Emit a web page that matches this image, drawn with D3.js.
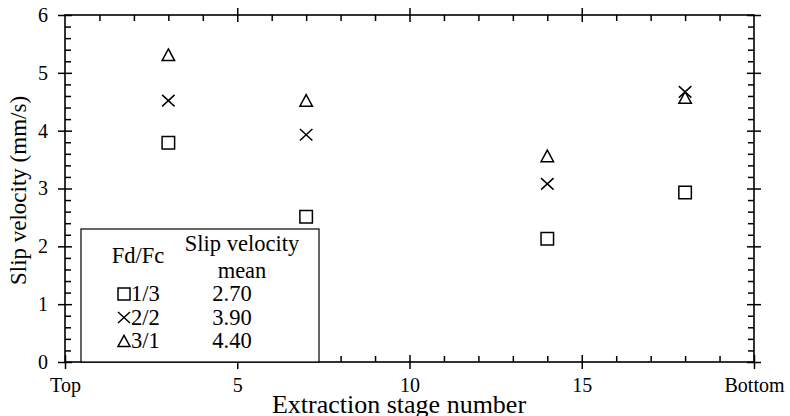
<!DOCTYPE html>
<html>
<head>
<meta charset="utf-8">
<script src="https://cdn.jsdelivr.net/npm/d3@7"></script>
<style>
  body { margin: 0; background: #fff; }
  svg text { font-family: "Liberation Serif", "Times New Roman", serif; fill: #000; }
</style>
</head>
<body>
<svg id="chart" width="790" height="416"></svg>
<script>
// stage positions of the measurements
const stages = [3, 7, 14, 18];
// slip velocity (mm/s) per Fd/Fc ratio
const ratio13 = [3.79, 2.51, 2.13, 2.93];
const ratio22 = [4.52, 3.93, 3.08, 4.67];
const ratio31 = [5.31, 4.52, 3.56, 4.57];
// legend table
const ratioNames = ['1/3', '2/2', '3/1'];
const ratioMeans = ['2.70', '3.90', '4.40'];
// tick labels on x
const xTickValues = [0, 5, 10, 15, 20];
const xTickLabels = ['Top', '5', '10', '15', 'Bottom'];
const yTickValues = [0, 1, 2, 3, 4, 5, 6];

const svg = d3.select('#chart');
const margin = {left: 65, right: 36, top: 15, bottom: 54};
const W = 790, H = 416;
const innerW = W - margin.left - margin.right;
const innerH = H - margin.top - margin.bottom;

const x = d3.scaleLinear().domain([0, 20]).range([margin.left, margin.left + innerW]);
const y = d3.scaleLinear().domain([0, 6]).range([margin.top + innerH, margin.top]);

const xMinor = d3.range(1, 20).filter(d => d % 5 !== 0);
const yMinor = d3.range(0, 30).map(d => d / 5).filter(d => Math.abs(d - Math.round(d)) > 1e-6);

const MAJOR = 7, MINOR = 6;

// frame
svg.append('rect')
  .attr('x', x(0)).attr('y', y(6))
  .attr('width', x(20) - x(0)).attr('height', y(0) - y(6))
  .attr('fill', 'none').attr('stroke', '#000').attr('stroke-width', 1.6);

function cleanAxis(g) {
  g.select('.domain').remove();
  g.selectAll('.tick line').attr('stroke', '#000').attr('stroke-width', 1.5);
}

// bottom axis: labels + crossing major ticks
const xAxis = d3.axisBottom(x).tickValues(xTickValues)
  .tickFormat((d, i) => xTickLabels[i]).tickSize(MAJOR).tickPadding(9);
svg.append('g').attr('class', 'x axis')
  .attr('transform', `translate(0,${y(0)})`)
  .call(xAxis).call(cleanAxis)
  .call(g => g.selectAll('.tick line').attr('y1', -MAJOR))
  .call(g => g.selectAll('.tick text').attr('font-size', 20));

// bottom minor ticks, inward
svg.append('g')
  .attr('transform', `translate(0,${y(0)})`)
  .call(d3.axisTop(x).tickValues(xMinor).tickSize(MINOR).tickFormat(''))
  .call(cleanAxis);

// top axis ticks, inward
svg.append('g')
  .attr('transform', `translate(0,${y(6)})`)
  .call(d3.axisBottom(x).tickValues(xMinor).tickSize(MINOR).tickFormat(''))
  .call(cleanAxis);
svg.append('g')
  .attr('transform', `translate(0,${y(6)})`)
  .call(d3.axisBottom(x).tickValues([5, 10, 15]).tickSize(MAJOR).tickFormat(''))
  .call(cleanAxis)
  .call(g => g.selectAll('.tick line').attr('y1', -MAJOR));

// left axis: labels + crossing major ticks
svg.append('g').attr('class', 'y axis')
  .attr('transform', `translate(${x(0)},0)`)
  .call(d3.axisLeft(y).tickValues(yTickValues).tickFormat(d3.format('d'))
    .tickSize(MAJOR).tickPadding(10))
  .call(cleanAxis)
  .call(g => g.selectAll('.tick line').attr('x1', MAJOR))
  .call(g => g.selectAll('.tick text').attr('font-size', 20));
svg.append('g')
  .attr('transform', `translate(${x(0)},0)`)
  .call(d3.axisRight(y).tickValues(yMinor).tickSize(MINOR).tickFormat(''))
  .call(cleanAxis);

// right axis ticks
svg.append('g')
  .attr('transform', `translate(${x(20)},0)`)
  .call(d3.axisLeft(y).tickValues(yMinor).tickSize(MINOR).tickFormat(''))
  .call(cleanAxis);
svg.append('g')
  .attr('transform', `translate(${x(20)},0)`)
  .call(d3.axisLeft(y).tickValues(yTickValues).tickSize(MAJOR).tickFormat(''))
  .call(cleanAxis)
  .call(g => g.selectAll('.tick line').attr('x1', MAJOR));

// axis titles
svg.append('text')
  .attr('x', 399).attr('y', 413)
  .attr('text-anchor', 'middle').attr('font-size', 26)
  .text('Extraction stage number');
svg.append('text')
  .attr('transform', `translate(26,${(y(0) + y(6)) / 2 + 2}) rotate(-90)`)
  .attr('text-anchor', 'middle').attr('font-size', 23)
  .text('Slip velocity (mm/s)');

// marker shapes
function markerPath(kind, s) {
  const h = s / 2;
  if (kind === 'square') return `M${-h},${-h}H${h}V${h}H${-h}Z`;
  if (kind === 'cross') return `M${-h},${-h * 0.92}L${h},${h * 0.92}M${h},${-h * 0.92}L${-h},${h * 0.92}`;
  return `M0,${-h * 0.95}L${h},${h * 0.9}H${-h}Z`;
}

const seriesList = [
  {kind: 'square', values: ratio13},
  {kind: 'cross', values: ratio22},
  {kind: 'triangle', values: ratio31}
];

seriesList.forEach(s => {
  svg.append('g').selectAll('path')
    .data(stages.map((st, i) => ({st, v: s.values[i]})))
    .join('path')
    .attr('transform', d => `translate(${x(d.st)},${y(d.v)})`)
    .attr('d', markerPath(s.kind, 12.5))
    .attr('fill', 'none').attr('stroke', '#000').attr('stroke-width', 1.5);
});

// legend table
const lg = svg.append('g');
lg.append('rect')
  .attr('x', 81).attr('y', 229).attr('width', 238).attr('height', y(0) - 229)
  .attr('fill', '#fff').attr('stroke', '#000').attr('stroke-width', 1.2);
lg.append('text').attr('x', 138).attr('y', 263).attr('text-anchor', 'middle')
  .attr('font-size', 22.5).text('Fd/Fc');
lg.append('text').attr('x', 242).attr('y', 251).attr('text-anchor', 'middle')
  .attr('font-size', 22.5).text('Slip velocity');
lg.append('text').attr('x', 242).attr('y', 278).attr('text-anchor', 'middle')
  .attr('font-size', 22.5).text('mean');

seriesList.forEach((s, i) => {
  const by = 301 + i * 23.5;
  lg.append('path')
    .attr('transform', `translate(124,${by - 7})`)
    .attr('d', markerPath(s.kind, 12))
    .attr('fill', 'none').attr('stroke', '#000').attr('stroke-width', 1.5);
  lg.append('text').attr('x', 131).attr('y', by).attr('font-size', 22.5).text(ratioNames[i]);
  lg.append('text').attr('x', 232).attr('y', by).attr('text-anchor', 'middle')
    .attr('font-size', 22.5).text(ratioMeans[i]);
});
</script>
</body>
</html>
